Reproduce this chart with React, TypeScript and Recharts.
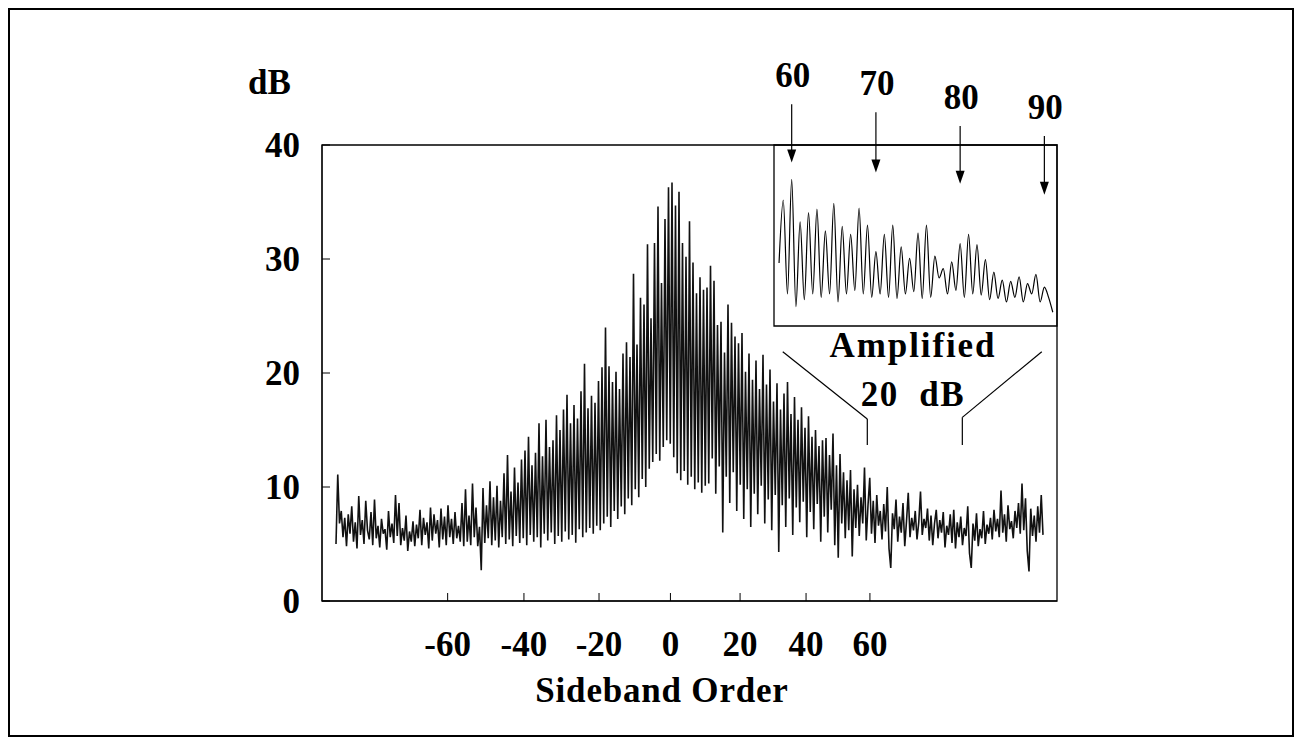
import React from 'react';
import { LineChart, Line, XAxis, YAxis, ReferenceArea, ReferenceLine } from 'recharts';

// spectrum level in dB, one value per frequency bin (bins 8..412)
const leftFloor = [
  5.0, 11.1, 6.8, 7.9, 5.6, 7.3, 4.8, 7.6, 5.9, 8.3, 5.2, 6.9, 4.6, 9.2, 5.8, 7.1, 5.0, 8.8, 6.2, 5.4,
  7.8, 4.9, 8.9, 5.5, 6.6, 4.7, 7.2, 5.9, 6.3, 4.5, 7.9, 5.6, 6.8, 5.1, 9.3, 5.7, 8.6, 4.9, 6.4, 5.3,
  7.5, 4.4, 6.1, 5.2, 7.0, 4.8, 6.7, 5.5, 8.0, 4.9, 7.3, 5.8, 6.9, 4.6, 8.2, 5.3, 7.6, 5.9, 7.1, 4.7,
  8.1, 5.4, 7.4, 4.9, 8.4, 5.6, 7.2, 5.0, 7.8, 5.5, 6.6, 5.2, 8.6, 4.8,
];
const leftWing = [
  9.8, 5.2, 7.5, 4.9, 10.3, 5.6, 8.2, 4.8, 6.5, 2.7, 9.9, 5.1, 8.4, 5.5, 10.5, 4.9, 9.1, 5.3, 10.1, 4.7,
  8.8, 5.6, 11.2, 5.0, 12.8, 5.4, 9.6, 4.8, 11.7, 5.7, 10.4, 5.1, 12.4, 5.5, 13.2, 4.9, 14.4, 5.8, 11.9, 5.2,
  13.0, 5.6, 15.6, 4.7, 12.7, 5.9, 15.9, 5.3, 13.5, 6.0, 14.1, 5.0, 16.3, 5.7, 15.0, 5.2, 16.8, 6.1, 18.1, 5.4,
  15.6, 5.8, 17.2, 5.1, 16.0, 6.3, 18.4, 5.6, 20.8, 6.0, 16.9, 6.4, 18.0, 5.9, 17.4, 6.6, 19.3, 6.2,
];
const core = [
  20.5, 6.8, 24.0, 7.4, 20.6, 6.5, 19.2, 7.9, 20.1, 7.2, 18.6, 8.3, 21.7, 7.6, 22.7, 9.0, 21.4, 8.4, 28.7, 9.8,
  22.5, 9.1, 26.6, 10.7, 26.0, 10.0, 31.3, 11.6, 24.8, 12.2, 31.4, 12.9, 34.6, 12.3, 27.9, 13.5, 33.5, 14.1, 36.3, 13.8,
  36.7, 12.6, 34.7, 11.2, 35.9, 10.6, 31.4, 11.4, 30.2, 10.2, 33.3, 10.9, 29.7, 9.8, 27.0, 10.4, 28.4, 9.5, 27.3, 10.1,
];
const rightWing = [
  27.5, 10.3, 29.4, 12.5, 28.1, 9.4, 24.2, 11.8, 24.5, 6.0, 21.8, 10.9, 26.0, 8.6, 24.4, 11.3, 23.2, 7.9, 22.6, 10.2,
  23.5, 7.2, 20.1, 9.8, 21.7, 6.5, 19.4, 9.4, 21.1, 7.6, 18.6, 10.1, 21.6, 6.8, 19.0, 8.9, 20.3, 6.2, 17.5, 9.3,
  19.1, 4.3, 16.8, 8.4, 18.2, 6.5, 19.2, 9.0, 16.4, 5.8, 17.9, 8.2, 15.9, 6.9, 17.0, 8.7, 15.2, 5.6, 16.2, 7.8,
  14.4, 6.3, 15.0, 8.5, 13.6, 5.2, 14.1, 7.4, 14.3, 6.0, 12.8, 8.0, 14.7, 4.9, 11.9, 3.8, 12.9, 6.8, 11.3, 5.5,
];
const rightFloor = [
  10.6, 6.2, 11.5, 3.9, 9.8, 6.4, 10.2, 5.7, 9.1, 6.8, 11.7, 5.3, 8.4, 10.8, 5.9, 8.8, 5.1, 9.3, 6.6, 7.9,
  5.4, 8.5, 6.1, 10.0, 4.6, 2.9, 7.7, 6.3, 8.9, 5.2, 7.4, 6.0, 8.6, 4.8, 7.0, 9.5, 5.6, 7.3, 6.2, 7.9,
  5.4, 6.9, 9.6, 5.8, 7.2, 6.4, 8.1, 5.3, 7.5, 4.9, 6.8, 8.0, 5.5, 7.1, 6.0, 7.8, 4.7, 6.6, 5.8, 7.6,
  5.1, 8.0, 4.6, 6.9, 5.6, 7.4, 4.9, 6.4, 5.7, 8.3, 4.2, 2.9, 6.8, 5.3, 7.7, 4.8, 6.3, 5.5, 7.9, 5.0,
  6.7, 5.9, 7.3, 5.4, 8.0, 6.1, 7.2, 5.6, 9.7, 6.0, 7.6, 5.2, 8.4, 6.3, 7.0, 5.5, 7.9, 6.4, 8.6, 5.9,
  10.3, 6.2, 9.0, 4.4, 2.6, 8.1, 5.7, 7.5, 5.2, 8.3, 6.0, 9.3, 5.8,
];

const segments = [
  { start: 8, values: leftFloor },
  { start: 82, values: leftWing },
  { start: 160, values: core },
  { start: 220, values: rightWing },
  { start: 300, values: rightFloor },
];
const spectrum = segments.flatMap((s) => s.values.map((db, i) => ({ bin: s.start + i, db })));

const dbTicks = [0, 10, 20, 30, 40];
const tickBins = [71.8, 115.4, 158.3, 199.1, 238.9, 276.6, 313.1];
const tickLabels = ['-60', '-40', '-20', '0', '20', '40', '60'];

// inset: sidebands 58.5..91, half-order steps (peaks on whole orders)
const insetStart = 58.5;
const insetLevels = [
  5.5, 11.0, 2.8, 12.8, 1.7, 9.1, 2.3, 9.9, 2.8, 10.2, 2.5, 8.3, 2.8, 10.7, 2.1, 8.7, 2.8, 8.0, 3.1, 10.3,
  2.8, 8.8, 2.5, 6.5, 2.8, 8.0, 2.5, 8.8, 2.4, 6.9, 2.8, 5.9, 3.0, 8.1, 2.4, 8.8, 2.5, 6.1, 4.2, 5.0,
  2.8, 5.6, 3.1, 7.2, 2.5, 8.0, 2.8, 7.1, 2.7, 5.8, 2.3, 4.7, 2.4, 4.0, 2.1, 3.9, 2.5, 4.3, 2.1, 3.7,
  2.8, 4.5, 2.1, 3.4, 2.5, 1.2,
];
const insetData = insetLevels.map((level, i) => ({ order: insetStart + i * 0.5, level }));

const arrowOrders = [60, 70, 80, 90];
const arrowTops = [19.36, 18.66, 17.46, 16.58];
const arrowTips = [14.27, 13.39, 12.42, 11.45];

const FONT = 'Liberation Serif, Times New Roman, serif';
const tickStyle = { fontSize: 35, fontFamily: FONT, fontWeight: 'bold', fill: '#000' };

const Arrow = (props: any) => {
  const { x1, y1, x2, y2, text } = props;
  return (
    <g>
      <line x1={x1} y1={y1} x2={x2} y2={y2 - 11} stroke="#000" strokeWidth={1.2} />
      <polygon points={`${x2 - 4.5},${y2 - 13} ${x2 + 4.5},${y2 - 13} ${x2},${y2}`} fill="#000" />
      <text x={x1 + 1} y={y1 - 17} textAnchor="middle" fontSize={35} fontWeight="bold" fontFamily={FONT} fill="#000">
        {text}
      </text>
    </g>
  );
};

const App: React.FC = () => {
  return (
    <div style={{ position: 'relative', width: 1286, height: 729 }}>
      <div
        style={{
          position: 'absolute', left: 0, top: 0, width: 1286, height: 729,
          border: '2px solid #000', boxSizing: 'border-box',
        }}
      />
      <div style={{ position: 'absolute', left: 0, top: 0 }}>
        <LineChart width={1286} height={729} data={spectrum} margin={{ top: 137, right: 237, bottom: 106, left: 254 }}>
          <XAxis
            dataKey="bin" type="number" domain={[0, 420]} ticks={tickBins} interval={0} height={30}
            tickSize={-8} tickMargin={38} stroke="#000" tick={tickStyle}
            tickFormatter={(v: number) => tickLabels[tickBins.indexOf(v)] ?? ''}
          />
          <YAxis
            type="number" domain={[0, 40]} ticks={dbTicks} interval={0} width={60}
            tickSize={-8} tickMargin={30} stroke="#000" tick={tickStyle}
          />
          <ReferenceArea x1={0} x2={420} y1={0} y2={40} fill="none" stroke="#000" strokeWidth={1.3} ifOverflow="visible" />
          <Line dataKey="db" type="linear" stroke="#111" strokeWidth={1.6} dot={false} isAnimationActive={false} />
          <ReferenceLine segment={[{ x: 263.3, y: 21.87 }, { x: 311.6, y: 15.96 }]} stroke="#000" strokeWidth={1.2} ifOverflow="visible" />
          <ReferenceLine segment={[{ x: 311.6, y: 15.96 }, { x: 311.6, y: 13.68 }]} stroke="#000" strokeWidth={1.2} ifOverflow="visible" />
          <ReferenceLine segment={[{ x: 411.3, y: 21.87 }, { x: 365.9, y: 16.11 }]} stroke="#000" strokeWidth={1.2} ifOverflow="visible" />
          <ReferenceLine segment={[{ x: 365.9, y: 16.11 }, { x: 365.9, y: 13.68 }]} stroke="#000" strokeWidth={1.2} ifOverflow="visible" />
        </LineChart>
      </div>
      <div style={{ position: 'absolute', left: 752, top: 22 }}>
        <LineChart width={310} height={300} data={insetData} margin={{ top: 115, right: 13, bottom: 4, left: 14 }}>
          <XAxis dataKey="order" type="number" domain={[57.9, 91.5]} hide />
          <YAxis type="number" domain={[0, 15.8]} hide />
          <ReferenceArea x1={57.9} x2={91.5} y1={0} y2={15.8} fill="none" stroke="#000" strokeWidth={1.3} ifOverflow="visible" />
          <Line dataKey="level" type="monotone" stroke="#000" strokeWidth={1.2} dot={false} isAnimationActive={false} />
          {arrowOrders.map((o, i) => (
            <ReferenceLine
              key={o}
              segment={[{ x: o, y: arrowTops[i] }, { x: o, y: arrowTips[i] }]}
              ifOverflow="visible"
              shape={(p: any) => <Arrow {...p} text={String(o)} />}
            />
          ))}
        </LineChart>
      </div>
      <svg width={1286} height={729} style={{ position: 'absolute', left: 0, top: 0, pointerEvents: 'none' }}>
        <g fontFamily={FONT} fontSize={35} fontWeight="bold" fill="#000">
          <text x={240} y={86}>dB</text>
          <text x={905} y={349} textAnchor="middle" letterSpacing={1.9}>Amplified</text>
          <text x={905} y={398} textAnchor="middle" letterSpacing={1.5} style={{ whiteSpace: 'pre' }}>20  dB</text>
          <text x={654} y={694} textAnchor="middle" letterSpacing={0.8}>Sideband Order</text>
        </g>
      </svg>
    </div>
  );
};

export default App;
